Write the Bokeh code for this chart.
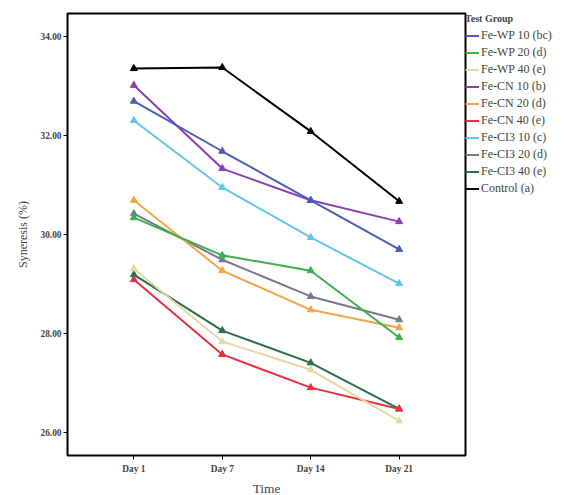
from bokeh.plotting import figure
from bokeh.models import Legend, LegendItem, FixedTicker, Range1d
from bokeh.embed import file_html
from bokeh.resources import INLINE

days = ["Day 1", "Day 7", "Day 14", "Day 21"]
x_idx = [0, 1, 2, 3]

groups = ["Fe-WP 10 (bc)", "Fe-WP 20 (d)", "Fe-WP 40 (e)", "Fe-CN 10 (b)", "Fe-CN 20 (d)",
          "Fe-CN 40 (e)", "Fe-CI3 10 (c)", "Fe-CI3 20 (d)", "Fe-CI3 40 (e)", "Control (a)"]
fe_wp_10 = [32.69, 31.68, 30.69, 29.70]
fe_wp_20 = [30.34, 29.58, 29.27, 27.92]
fe_wp_40 = [29.31, 27.84, 27.27, 26.24]
fe_cn_10 = [33.01, 31.33, 30.69, 30.26]
fe_cn_20 = [30.69, 29.27, 28.48, 28.12]
fe_cn_40 = [29.09, 27.58, 26.91, 26.48]
fe_ci3_10 = [32.30, 30.95, 29.94, 29.01]
fe_ci3_20 = [30.42, 29.49, 28.75, 28.28]
fe_ci3_40 = [29.19, 28.06, 27.41, 26.48]
control = [33.35, 33.37, 32.08, 30.67]
series = [fe_wp_10, fe_wp_20, fe_wp_40, fe_cn_10, fe_cn_20, fe_cn_40,
          fe_ci3_10, fe_ci3_20, fe_ci3_40, control]
colors = ["#4a5fb4", "#3cb04a", "#e6d7a6", "#8a3fb2", "#f4a444", "#e8303e",
          "#62c6e6", "#77778a", "#2c6e4c", "#000000"]
y_ticks = [26, 28, 30, 32, 34]

p = figure(frame_width=398, frame_height=442, output_backend="svg", toolbar_location=None,
           x_range=Range1d(-0.75, 3.75), y_range=Range1d(25.54, 34.46),
           min_border_left=67, min_border_top=13, min_border_bottom=40, min_border_right=0)
p.xgrid.visible = False
p.ygrid.visible = False
p.outline_line_color = "black"
p.outline_line_width = 2

items = []
order = [9, 8, 7, 6, 5, 4, 3, 2, 1, 0]
renderers = {}
for i in order:
    ys = series[i]
    r = p.line(x_idx, ys, line_color=colors[i], line_width=2)
    s = p.scatter(x_idx, ys, marker="triangle", size=7, fill_color=colors[i], line_color=colors[i])
    renderers[i] = r
for i in range(len(groups)):
    items.append(LegendItem(label=groups[i], renderers=[renderers[i]]))

legend = Legend(items=items, title="Test Group", title_text_font="Liberation Serif",
                title_text_font_size="7.5pt", title_text_font_style="bold",
                label_text_font="Liberation Serif", label_text_font_size="9pt",
                label_height=13, glyph_height=13, glyph_width=14, label_standoff=2,
                spacing=2, padding=0, margin=0, border_line_color=None,
                background_fill_alpha=0, title_standoff=4, location="top_left")
p.add_layout(legend, "right")

p.xaxis.ticker = FixedTicker(ticks=x_idx)
p.xaxis.major_label_overrides = {i: d for i, d in zip(x_idx, days)}
p.yaxis.ticker = FixedTicker(ticks=y_ticks)
p.yaxis.major_label_overrides = {t: f"{t:.2f}" for t in y_ticks}
for ax in (p.xaxis[0], p.yaxis[0]):
    ax.minor_tick_line_color = None
    ax.major_tick_in = 0
    ax.major_tick_out = 4
    ax.axis_line_color = None
    ax.major_label_text_font = "Liberation Serif"
    ax.major_label_text_font_size = "7pt"
    ax.major_label_text_font_style = "bold"
    ax.axis_label_text_font = "Liberation Serif"
    ax.axis_label_text_font_style = "normal"
p.xaxis.axis_label = "Time"
p.xaxis.axis_label_text_font_size = "10pt"
p.xaxis.axis_label_standoff = 4
p.yaxis.axis_label = "Syneresis (%)"
p.yaxis.axis_label_text_font_size = "9pt"
p.yaxis.axis_label_standoff = 8
p.yaxis.major_label_standoff = 2
p.xaxis.major_label_standoff = 4

open("out.html", "w").write(file_html(p, INLINE))
